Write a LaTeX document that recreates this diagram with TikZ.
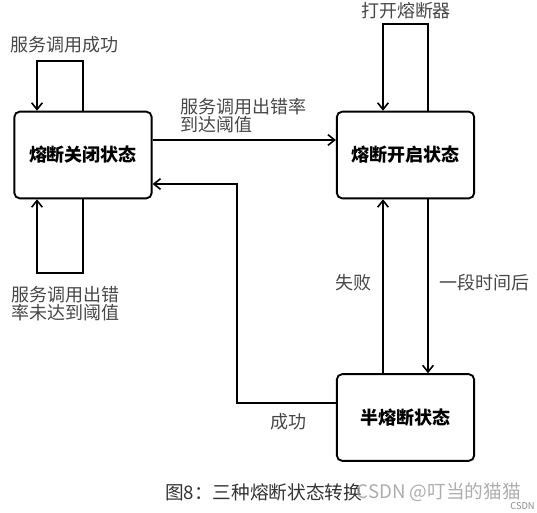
\documentclass[tikz,border=0pt]{standalone}
\usepackage{fontspec}
\setmainfont{Noto Sans CJK SC}
\usetikzlibrary{arrows.meta, shadows}

\tikzset{
  state/.style={draw, line width=1.4pt, rounded corners=4pt, fill=white,
    minimum width=103pt, minimum height=65pt,
    font=\bfseries\fontsize{13.5}{15}\selectfont,
    drop shadow={shadow xshift=0.6pt, shadow yshift=-0.6pt, opacity=0.35}},
  trans/.style={line width=1.4pt, -{Straight Barb[length=5pt, width=8pt, line width=1.2pt]}},
  lbl/.style={text=black!72, font=\fontsize{13.5}{13.5}\selectfont, align=left, inner sep=0pt}
}

\begin{document}
\begin{tikzpicture}[x=0.75pt, y=-0.75pt]
  \useasboundingbox (0,0) rectangle (537,513);

  % states
  \node[state] (closed) at (83,155) {熔断关闭状态};
  \node[state] (open) at (405.5,155) {熔断开启状态};
  \node[state] (half) at (405.5,417.5) {半熔断状态};

  % corner points
  \coordinate (c1) at (37,61);
  \coordinate (c2) at (37,273);
  \coordinate (o1) at (383,24);
  \coordinate (o2) at (428,24);
  \coordinate (r1) at (245,140);
  \coordinate (h1) at (237,403);
  \coordinate (h2) at (237,184);

  % self loops
  \draw[trans] (closed.north) |- (c1) -- (closed.north -| c1);
  \draw[trans] (closed.south) |- (c2) -- (closed.south -| c2);
  \draw[trans] (open.north -| o2) -- (o2) -- (o1) -- (open.north -| o1);

  % transitions
  \draw[trans] (closed.east |- r1) -- (open.west |- r1);
  \draw[trans] (half.west |- h1) -- (h1) -- (h2) -- (closed.east |- h2);
  \draw[trans] (half.north -| o1) -- (open.south -| o1);
  \draw[trans] (open.south -| o2) -- (half.north -| o2);

  % labels
  \node[lbl, anchor=west] (l1) at (10,45) {服务调用成功};
  \node[lbl, anchor=west] (l2) at (11,304) {服务调用出错\\率未达到阈值};
  \node[lbl] (l3) at (406,11) {打开熔断器};
  \node[lbl, anchor=west] (l4) at (180,116) {服务调用出错率\\到达阈值};
  \node[lbl] (l5) at (353,283) {失败};
  \node[lbl, anchor=west] (l6) at (439,283) {一段时间后};
  \node[lbl] (l7) at (288,422) {成功};

  % caption
  \node[text=black!80, font=\fontsize{14}{16}\selectfont, anchor=west, inner sep=0pt] (cap) at (165,492) {图8：三种熔断状态转换};
  \node[text=black!40, opacity=0.8, font=\fontsize{14}{16}\selectfont, anchor=east, inner sep=0pt] (wm) at (521,492) {CSDN @叮当的猫猫};
  \node[text=black!45, font=\fontsize{7}{8}\selectfont, anchor=east, inner sep=0pt] (wm2) at (535,506) {CSDN};
\end{tikzpicture}
\end{document}
